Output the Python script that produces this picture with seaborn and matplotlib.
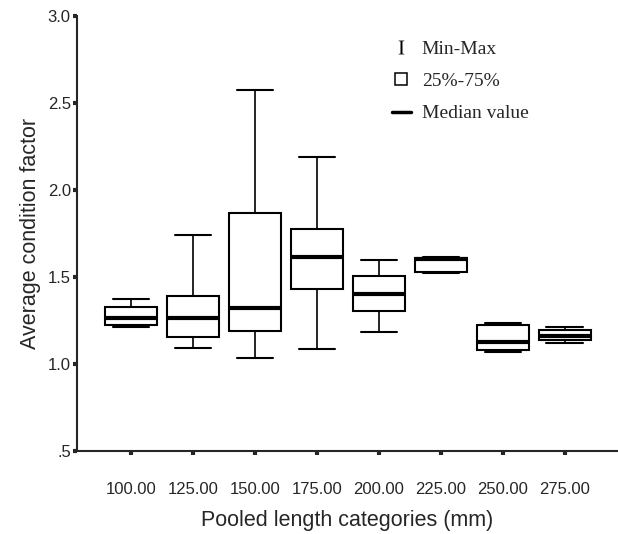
import numpy as np
import pandas as pd
import matplotlib
matplotlib.use("Agg")
import matplotlib.pyplot as plt
from matplotlib.lines import Line2D
import seaborn as sns

# ---- data ----
categories = ["100.00", "125.00", "150.00", "175.00", "200.00", "225.00", "250.00", "275.00"]
mins    = [1.214, 1.092, 1.032, 1.086, 1.183, 1.525, 1.069, 1.120]
q1s     = [1.224, 1.153, 1.187, 1.431, 1.302, 1.527, 1.080, 1.139]
medians = [1.263, 1.263, 1.323, 1.613, 1.403, 1.604, 1.126, 1.163]
q3s     = [1.327, 1.389, 1.868, 1.774, 1.506, 1.611, 1.223, 1.194]
maxs    = [1.371, 1.740, 2.576, 2.187, 1.598, 1.617, 1.236, 1.211]
yticks = [0.5, 1.0, 1.5, 2.0, 2.5, 3.0]
ytick_labels = [".5", "1.0", "1.5", "2.0", "2.5", "3.0"]
legend_labels = ["Min-Max", "25%-75%", "Median value"]

rows = []
for c, a, b, m, d, e in zip(categories, mins, q1s, medians, q3s, maxs):
    for v in (a, b, m, d, e):
        rows.append({"cat": c, "val": v})
df = pd.DataFrame(rows)

sns.set_style("ticks")
plt.rcParams["font.family"] = ["Liberation Sans", "DejaVu Sans"]
plt.rcParams["mathtext.fontset"] = "custom"
plt.rcParams["mathtext.rm"] = "Liberation Serif"

fig = plt.figure(figsize=(6.18, 5.34), dpi=100)
ax = fig.add_axes([0.1246, 0.1554, 0.8734, 0.8146])

BOXW = 0.84
sns.boxplot(data=df, x="cat", y="val", order=categories, ax=ax,
            whis=(0, 100), width=BOXW, color="white", linecolor="black",
            linewidth=1.5, showfliers=False,
            medianprops=dict(linewidth=3.0, color="black"),
            whiskerprops=dict(linewidth=1.2, color="black"),
            capprops=dict(linewidth=1.5, color="black"))

# widen the whisker caps to ~70% of the box width
for ln in ax.lines:
    xd = np.asarray(ln.get_xdata(), dtype=float)
    yd = np.asarray(ln.get_ydata(), dtype=float)
    if len(xd) == 2 and np.isclose(yd[0], yd[1]):
        span = abs(xd[1] - xd[0])
        if span < BOXW * 0.95 and span > 0.05:
            cx = xd.mean()
            ln.set_xdata([cx - 0.35 * BOXW, cx + 0.35 * BOXW])

ax.set_ylim(0.5, 3.0)
ax.set_xlim(-0.87, 7.84)
ax.set_yticks(yticks)
ax.set_yticklabels(ytick_labels)
sns.despine(ax=ax)
for s in ("left", "bottom"):
    ax.spines[s].set_linewidth(1.5)

ax.tick_params(axis="y", length=3, width=3, pad=1.5, labelsize=12)
ax.tick_params(axis="x", length=3, width=3, pad=19, labelsize=12)

ax.set_xlabel("Pooled length categories (mm)", fontsize=15.5)
ax.set_ylabel("Average condition factor", fontsize=15.5, va="center")
ax.yaxis.set_label_coords(-0.087, 0.5)
ax.xaxis.set_label_coords(0.5, -0.136)

handles = [
    Line2D([], [], ls="none", marker=r"$\mathrm{I}$", color="black", mew=0, markersize=10),
    Line2D([], [], ls="none", marker="s", mfc="white", mec="black", mew=1.1, markersize=8.5),
    Line2D([], [], ls="-", color="black", lw=2.5),
]
ax.legend(handles, legend_labels, loc="upper left", bbox_to_anchor=(0.583, 0.945),
          frameon=False, borderpad=0, borderaxespad=0, handlelength=1.0,
          handletextpad=0.55, labelspacing=0.76,
          prop={"family": "Liberation Serif", "size": 14})

fig.savefig("out.png", dpi=100, facecolor="white")
